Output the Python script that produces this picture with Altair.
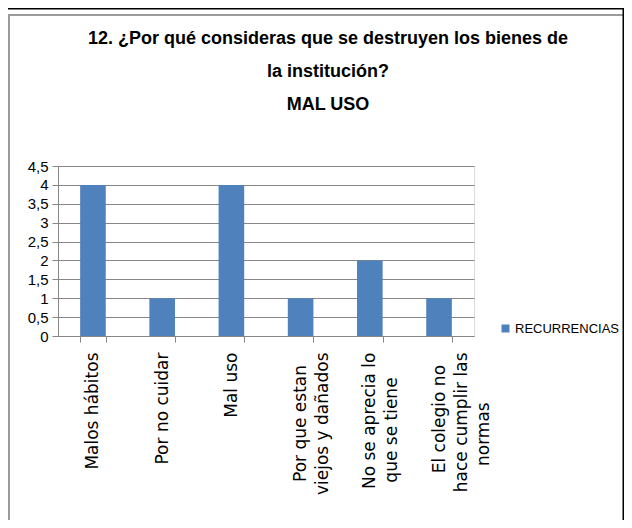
import altair as alt
import pandas as pd

categories = [
    ["Malos hábitos"],
    ["Por no cuidar"],
    ["Mal uso"],
    ["Por que estan", "viejos y dañados"],
    ["No se aprecia lo", "que se tiene"],
    ["El colegio no", "hace cumplir las", "normas"],
]
values = [4, 1, 4, 1, 2, 1]
series = "RECURRENCIAS"
y_ticks = [0, 0.5, 1, 1.5, 2, 2.5, 3, 3.5, 4, 4.5]
title_lines = [
    "12. ¿Por qué consideras que se destruyen los bienes de",
    "la institución?",
    "MAL USO",
]

BLANK = "\u2800"  # blank glyph that is not trimmed as whitespace


def centred(lines):
    # pad shorter lines so that each line sits centred within the rotated label
    longest = max(len(s) for s in lines)
    return "|".join(s + BLANK * round((longest - len(s)) * 0.42) for s in lines)


labels = [centred(c) for c in categories]
df = pd.DataFrame({"cat": labels, "val": values, "serie": [series] * len(labels)})
one = pd.DataFrame({"a": [0]})

GRAY = "#868686"
SANS = "Liberation Sans, Arial"

bars = alt.Chart(df).mark_bar(color="#4F81BD").encode(
    x=alt.X(
        "cat:N",
        sort=labels,
        title=None,
        scale=alt.Scale(paddingInner=0.63, paddingOuter=0.32),
        axis=alt.Axis(
            labelAngle=-90,
            labelAlign="right",
            labelBaseline="middle",
            labelExpr="split(datum.label, '|')",
            labelFont="DejaVu Sans",
            labelFontSize=17,
            labelLineHeight=22,
            labelColor="#000000",
            labelPadding=10,
            tickBand="extent",
            tickSize=6,
            tickColor=GRAY,
            domainColor=GRAY,
            labelLimit=300,
            labelOverlap=False,
        ),
    ),
    y=alt.Y(
        "val:Q",
        title=None,
        scale=alt.Scale(domain=[0, 4.5], nice=False),
        axis=alt.Axis(
            values=y_ticks,
            labelExpr="replace(format(datum.value, '~g'), '.', ',')",
            labelFont=SANS,
            labelFontSize=15,
            labelColor="#000000",
            labelPadding=4,
            tickSize=6,
            tickColor=GRAY,
            domainColor=GRAY,
            gridColor=GRAY,
            gridOpacity=1,
            labelOverlap=False,
        ),
    ),
    color=alt.Color(
        "serie:N",
        scale=alt.Scale(range=["#4F81BD"]),
        legend=alt.Legend(
            title=None,
            orient="none",
            legendX=441,
            legendY=156,
            symbolType="square",
            symbolSize=64,
            symbolStrokeWidth=0,
            labelOffset=3,
            labelFont=SANS,
            labelFontSize=13,
            labelColor="#000000",
            labelLimit=200,
        ),
    ),
)

border = alt.Chart(one).mark_rect(filled=False, stroke="#9a9a9a", strokeWidth=2).encode(
    x=alt.value(-49), x2=alt.value(600), y=alt.value(-151), y2=alt.value(359)
)
top_line = alt.Chart(one).mark_rule(color="black", strokeWidth=3).encode(
    x=alt.value(-60), x2=alt.value(566), y=alt.value(-158)
)
right_line = alt.Chart(one).mark_rule(color="black", strokeWidth=3).encode(
    x=alt.value(566), y=alt.value(-160), y2=alt.value(370)
)

chart = (
    alt.layer(border, bars, top_line, right_line)
    .properties(
        width=416,
        height=170,
        autosize=alt.AutoSizeParams(type="none"),
        padding={"left": 50, "top": 158, "right": 150, "bottom": 184},
        title=alt.TitleParams(
            text=title_lines,
            anchor="middle",
            dx=62,
            offset=-109,
            font=SANS,
            fontSize=18,
            fontWeight="bold",
            lineHeight=33,
            color="#000000",
        ),
    )
    .configure_view(stroke=None)
    .configure(background="white")
)

chart.save("out.html", embed_options={"renderer": "svg", "actions": False})
